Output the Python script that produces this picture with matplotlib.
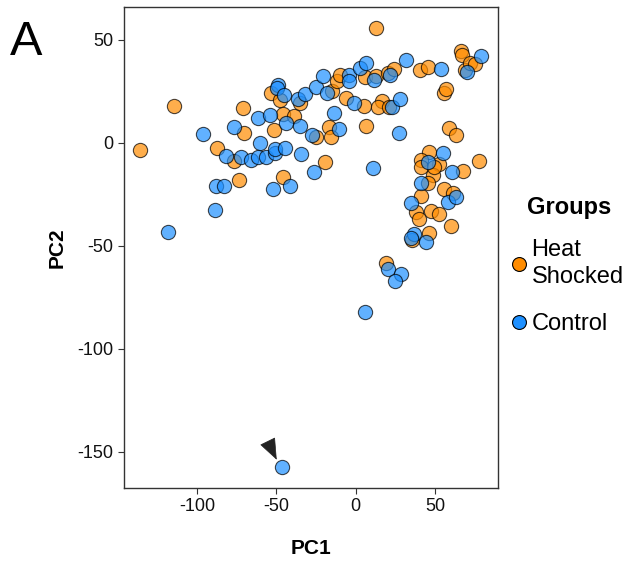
import matplotlib.pyplot as plt
from matplotlib.lines import Line2D

plt.rcParams['font.family'] = ['Liberation Sans', 'DejaVu Sans']
plt.rcParams['axes.unicode_minus'] = False

# Heat shocked samples (PC1, PC2)
heat_pc1 = [13.0, -114.7, -135.7, -71.0, -70.6, -87.2, -76.5, -73.5, -53.1, -47.9,
            -51.7, -45.8, -39.1, -35.3, -45.8, -19.5, -25.2, -16.8, -15.8, -14.7,
            -11.8, -10.1, -5.9, 5.2, 6.3, 5.7, 13.0, 16.8, 14.3, 21.0,
            20.4, 24.2, 40.3, 45.6, 55.4, 57.1, 58.8, 63.4, 66.0, 67.0,
            68.7, 71.8, 75.0, 77.5, 67.6, 46.2, 41.4, 41.4, 52.5, 48.7,
            49.4, 45.6, 55.7, 61.3, 41.4, 38.2, 39.9, 47.3, 52.5, 59.7,
            46.0, 35.5, 19.3]
heat_pc2 = [55.7, 18.0, -3.4, 16.8, 5.0, -2.6, -8.6, -18.0, 24.1, 20.9,
            6.3, 14.1, 13.1, 19.3, -16.4, -9.1, 3.1, 7.6, 3.1, 25.4,
            30.1, 33.0, 21.7, 18.0, 8.4, 32.2, 32.5, 20.5, 17.3, 17.6,
            34.1, 35.8, 35.4, 37.0, 24.1, 26.1, 7.4, 3.9, 44.7, 42.7,
            35.4, 38.7, 38.2, -8.7, -13.6, -4.2, -8.3, -11.5, -10.4, -15.5,
            -11.5, -19.3, -22.3, -24.4, -25.6, -33.3, -37.0, -32.9, -34.5, -40.3,
            -43.5, -47.1, -58.1]

# Control samples (PC1, PC2)
ctrl_pc1 = [-96.2, -76.9, -61.5, -53.8, -48.9, -49.4, -45.4, -60.5, -81.9, -72.0,
            -66.2, -61.5, -56.7, -51.0, -50.8, -44.3, -34.2, -43.7, -35.3, -36.4,
            -31.7, -24.8, -20.6, -18.1, -27.7, -13.7, -10.7, -4.2, -4.2, -1.1,
            2.9, 6.7, 11.6, 21.4, 23.1, 27.7, 27.3, 31.9, 53.6, 70.2,
            78.8, 10.9, -26.3, -41.6, -52.1, -88.2, -82.7, -88.8, -118.0, 45.2,
            55.0, 60.9, 41.4, 34.7, 58.2, 63.4, 36.7, 34.7, 44.5, 20.4,
            28.8, 24.6, 6.1, -46.4]
ctrl_pc2 = [4.2, 7.9, 12.0, 13.6, 28.2, 26.5, 23.3, 0.2, -6.2, -6.6,
            -8.3, -6.6, -6.6, -4.7, -3.1, -2.3, -5.3, 9.6, 8.3, 21.4,
            23.6, 27.3, 32.5, 24.1, 3.9, 14.4, 6.9, 33.0, 30.1, 19.6,
            36.2, 38.7, 30.6, 33.0, 17.6, 21.2, 4.7, 40.3, 35.9, 34.3,
            42.4, -12.3, -14.2, -20.7, -22.3, -20.7, -20.9, -32.5, -43.4, -9.4,
            -5.0, -14.2, -19.3, -29.0, -28.8, -26.4, -44.3, -46.3, -48.2, -61.2,
            -63.6, -67.0, -82.2, -157.1]

group_labels = ['Heat\nShocked', 'Control']
group_colors = ['#FF8C00', '#1E90FF']

fig = plt.figure(figsize=(6.31, 5.65), dpi=100)
ax = fig.add_axes([0.1965, 0.1363, 0.5925, 0.8513])

ax.scatter(heat_pc1, heat_pc2, s=105, c=group_colors[0], alpha=0.7,
           edgecolors='black', linewidths=0.8, zorder=3)
ax.scatter(ctrl_pc1, ctrl_pc2, s=105, c=group_colors[1], alpha=0.7,
           edgecolors='black', linewidths=0.8, zorder=3)

# arrowhead pointing at the outlier
ax.annotate('', xy=(-49.8, -153.8), xytext=(-55.2, -145.3),
            arrowprops=dict(arrowstyle='-|>,head_length=1.4,head_width=0.55',
                            color='#222222', lw=0.5, shrinkA=0, shrinkB=0))

ax.set_xlim(-146, 89.5)
ax.set_ylim(-167.5, 66)
ax.set_xticks([-100, -50, 0, 50])
ax.set_yticks([50, 0, -50, -100, -150])
ax.tick_params(labelsize=13, length=4, width=0.8, color='#333333', labelcolor='#111111')
for sp in ax.spines.values():
    sp.set_color('#333333')
    sp.set_linewidth(1.0)

ax.set_xlabel('PC1', fontsize=15, fontweight='bold', labelpad=17)
ax.set_ylabel('PC2', fontsize=15, fontweight='bold', labelpad=8)

fig.text(0.015, 0.965, 'A', fontsize=35, va='top', ha='left')

# legend: title set apart so it lines up with the labels, not the markers
fig.text(0.835, 0.632, 'Groups', fontsize=17, fontweight='bold', va='center', ha='left')
handles = [Line2D([], [], marker='o', ls='', markersize=10, markerfacecolor=c,
                  markeredgecolor='black', markeredgewidth=0.8) for c in group_colors]
leg = fig.legend(handles, group_labels, loc='center left',
                 bbox_to_anchor=(0.777, 0.492), frameon=False, fontsize=17,
                 handletextpad=0.05, labelspacing=1.08,
                 handlelength=1.0, borderpad=0.2)
for t in leg.get_texts():
    t.set_linespacing(1.3)

fig.savefig('out.png', dpi=100)
